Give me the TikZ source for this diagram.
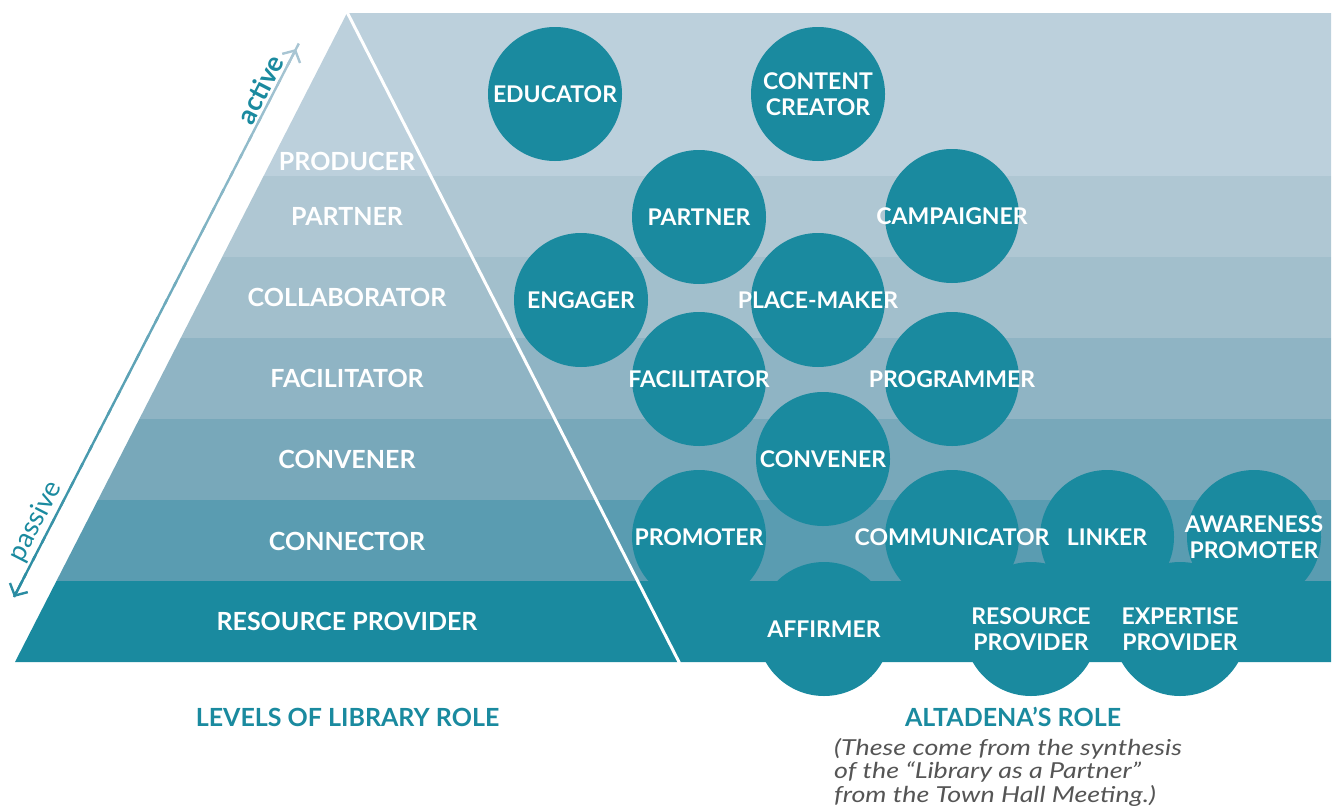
\documentclass[tikz,border=0pt]{standalone}
\usepackage{fontspec}
\setmainfont{Lato}
\newfontfamily\notefont[FakeStretch=1.22]{Lato}
\usetikzlibrary{arrows.meta,calc}
\definecolor{teal1}{HTML}{1A8A9F}
\definecolor{bandA}{HTML}{BCD0DC}
\definecolor{bandB}{HTML}{AFC7D3}
\definecolor{bandC}{HTML}{A2BFCC}
\definecolor{bandD}{HTML}{8FB4C4}
\definecolor{bandE}{HTML}{78A8BA}
\definecolor{bandF}{HTML}{5A9CB1}
\definecolor{bandG}{HTML}{1A8A9F}
\definecolor{arrlight}{HTML}{A8C5D3}
\definecolor{arrdark}{HTML}{2A8CA2}
\definecolor{subgrey}{HTML}{555555}
\begin{document}
\begin{tikzpicture}[x=1pt,y=-1pt,
  bubble/.style={circle, fill=teal1, minimum size=134pt, inner sep=0pt, draw=none},
  btext/.style={text=white, font=\bfseries\fontsize{23}{26}\selectfont, align=center, inner sep=0pt},
  level/.style={text=white, font=\bfseries\fontsize{25}{30}\selectfont, inner sep=0pt},
  heading/.style={text=teal1, font=\bfseries\fontsize{25}{30}\selectfont, inner sep=0pt},
  sidetext/.style={text=teal1, inner sep=0pt, sloped, above=3pt},
  arrowline/.style={line width=2.4pt}
]
\useasboundingbox (0,0) rectangle (1335,811);
% bands
\begin{scope}
\clip (347,13) -- (1331,13) -- (1331,662) -- (15,662) -- cycle;
\fill[bandA] (0,0) rectangle (1335,176);
\fill[bandB] (0,176) rectangle (1335,257);
\fill[bandC] (0,257) rectangle (1335,338);
\fill[bandD] (0,338) rectangle (1335,419);
\fill[bandE] (0,419) rectangle (1335,500);
\fill[bandF] (0,500) rectangle (1335,581);
\fill[bandG] (0,581) rectangle (1335,663);
\end{scope}
\coordinate (apex) at (347,12);
\coordinate (divbot) at (679.5,663);
\draw[white, line width=3pt] (apex) -- (divbot);
% pyramid levels
\node[level] (l1) at (347,161) {PRODUCER};
\node[level] (l2) at (347,216) {PARTNER};
\node[level] (l3) at (347,297) {COLLABORATOR};
\node[level] (l4) at (347,378) {FACILITATOR};
\node[level] (l5) at (347,459) {CONVENER};
\node[level] (l6) at (347,541) {CONNECTOR};
\node[level] (l7) at (347,621) {RESOURCE PROVIDER};
% circles
\foreach \n/\x/\y in {educator/555/94, content/818/94, partner/699/217, campaigner/952/216,
  engager/581/300, placemaker/818/300, facilitator/699/379, programmer/952/379,
  convener/823/459, promoter/699/537, communicator/952/537, linker/1107/537,
  awareness/1254/537, affirmer/824/629, resource/1031/629, expertise/1180/629}
  \node[bubble] (\n) at (\x,\y) {};
\node[btext] (educator-t) at (educator) {EDUCATOR};
\node[btext] (content-t) at (content) {CONTENT\\CREATOR};
\node[btext] (partner-t) at (partner) {PARTNER};
\node[btext] (campaigner-t) at (campaigner) {CAMPAIGNER};
\node[btext] (engager-t) at (engager) {ENGAGER};
\node[btext] (placemaker-t) at (placemaker) {PLACE-MAKER};
\node[btext] (facilitator-t) at (facilitator) {FACILITATOR};
\node[btext] (programmer-t) at (programmer) {PROGRAMMER};
\node[btext] (convener-t) at (convener) {CONVENER};
\node[btext] (promoter-t) at (promoter) {PROMOTER};
\node[btext] (communicator-t) at (communicator) {COMMUNICATOR};
\node[btext] (linker-t) at (linker) {LINKER};
\node[btext] (awareness-t) at (awareness) {AWARENESS\\PROMOTER};
\node[btext] (affirmer-t) at (affirmer) {AFFIRMER};
\node[btext] (resource-t) at (resource) {RESOURCE\\PROVIDER};
\node[btext] (expertise-t) at (expertise) {EXPERTISE\\PROVIDER};
% active / passive arrow
\coordinate (pbot) at (14,597);
\coordinate (ptop) at (296,49);
\foreach \i in {0,...,29} {
  \pgfmathsetmacro\a{\i/30}
  \pgfmathsetmacro\b{(\i+1.3)/30}
  \pgfmathtruncatemacro\m{100*\i/29}
  \draw[arrowline, arrlight!\m!arrdark] ($(pbot)!\a!(ptop)$) -- ($(pbot)!\b!(ptop)$);
}
\draw[arrowline, arrdark, {Straight Barb[length=9pt,width=20pt]}-] (pbot) -- ($(pbot)!0.03!(ptop)$);
\draw[arrowline, arrlight, -{Straight Barb[length=9pt,width=20pt]}] ($(pbot)!0.97!(ptop)$) -- (ptop);
\path (pbot) -- (ptop)
  node[sidetext, pos=0.915, font=\bfseries\fontsize{27}{30}\selectfont] (active) {active}
  node[sidetext, pos=0.125, font=\fontsize{27}{30}\selectfont] (passive) {passive};
% headings
\node[heading] (levels) at (347.5,717) {LEVELS OF LIBRARY ROLE};
\node[heading] (altadena) at (1013,717) {ALTADENA’S ROLE};
\node[anchor=north west, align=left, text=subgrey, inner sep=0pt,
  font=\notefont\itshape\fontsize{22}{23.5}\selectfont] (note) at (834,738)
  {(These come from the synthesis\\of the “Library as a Partner”\\from the Town Hall Meeting.)};
\end{tikzpicture}
\end{document}
